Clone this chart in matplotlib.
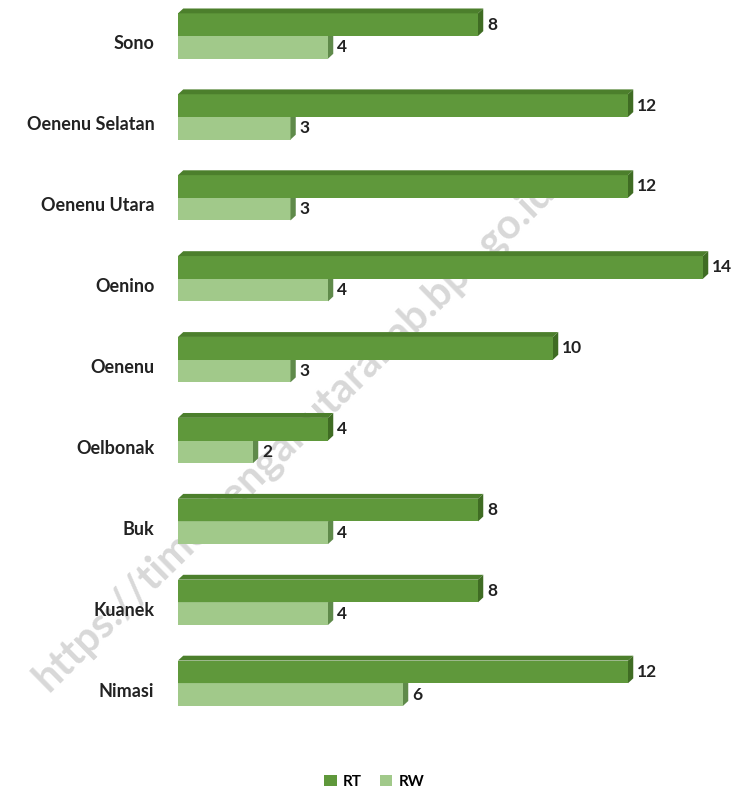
import matplotlib
matplotlib.use('Agg')
import matplotlib.pyplot as plt
from matplotlib.patches import Polygon, Rectangle, Patch

plt.rcParams['font.family'] = ['Lato', 'DejaVu Sans']

# data
desa = ['Sono', 'Oenenu Selatan', 'Oenenu Utara', 'Oenino', 'Oenenu',
        'Oelbonak', 'Buk', 'Kuanek', 'Nimasi']
rt = [8, 12, 12, 14, 10, 4, 8, 8, 12]
rw = [4, 3, 3, 4, 3, 2, 4, 4, 6]

c_rt = '#5f983b'
c_rt_top = '#4c7f2c'
c_rt_side = '#3f6c23'
c_rw = '#a1c98a'
c_rw_top = '#86b06e'
c_rw_side = '#5f8a4a'

fig = plt.figure(figsize=(7.41, 7.93), dpi=100)
ax = fig.add_axes([178 / 741, 1 - 720 / 793, 1 - 178 / 741, 720 / 793])
ax.set_facecolor('none')

h = 0.28      # bar thickness
dx = 0.14     # 3d depth in x
dy = 0.06     # 3d depth in y


def bar3d(y0, y1, v, front, top, side, z):
    # y0 = upper edge (smaller y, axis inverted), y1 = lower edge
    ax.add_patch(Rectangle((0, y0), v, y1 - y0, facecolor=front,
                           edgecolor='none', zorder=z))
    ax.add_patch(Polygon([(0, y0), (v, y0), (v + dx, y0 - dy), (dx, y0 - dy)],
                         closed=True, facecolor=top, edgecolor='none', zorder=z))
    ax.add_patch(Polygon([(v, y0), (v + dx, y0 - dy), (v + dx, y1 - dy), (v, y1)],
                         closed=True, facecolor=side, edgecolor='none', zorder=z))


for i in range(len(desa)):
    bar3d(i, i + h, rw[i], c_rw, c_rw_top, c_rw_side, 2)
    bar3d(i - h, i, rt[i], c_rt, c_rt_top, c_rt_side, 3)
    ax.text(rt[i] + dx + 0.1, i - h / 2, str(rt[i]), fontsize=12.5,
            fontweight='bold', va='center', ha='left', color='#222222', zorder=5)
    ax.text(rw[i] + dx + 0.1, i + h / 2, str(rw[i]), fontsize=12.5,
            fontweight='bold', va='center', ha='left', color='#222222', zorder=5)

ax.set_xlim(0, 566 / 37.7)
ax.set_ylim((720 - 36) / 80.9, -36 / 80.9)
ax.set_yticks([i + 0.08 for i in range(len(desa))])
ax.set_yticklabels(desa, fontsize=13, fontweight='bold', color='#222222')
ax.tick_params(axis='y', length=0, pad=17)
ax.set_xticks([])
for s in ax.spines.values():
    s.set_visible(False)

# watermark (behind the bars)
ax.text(0.397, 0.452, 'https://timortengahutarakab.bps.go.id', fontsize=30,
        fontweight='bold', color='#d8d8d8', rotation=44.5, ha='center',
        va='center', transform=fig.transFigure, zorder=1, clip_on=False)

handles = [Patch(facecolor=c_rt, edgecolor='none', label='RT'),
           Patch(facecolor=c_rw, edgecolor='none', label='RW')]
fig.legend(handles=handles, loc='lower center', bbox_to_anchor=(0.505, -0.012),
           ncol=2, frameon=False, handlelength=0.8,
           handleheight=0.8, handletextpad=0.4, columnspacing=1.2,
           prop={'weight': 'bold', 'size': 11})

fig.savefig('out.png', dpi=100)
